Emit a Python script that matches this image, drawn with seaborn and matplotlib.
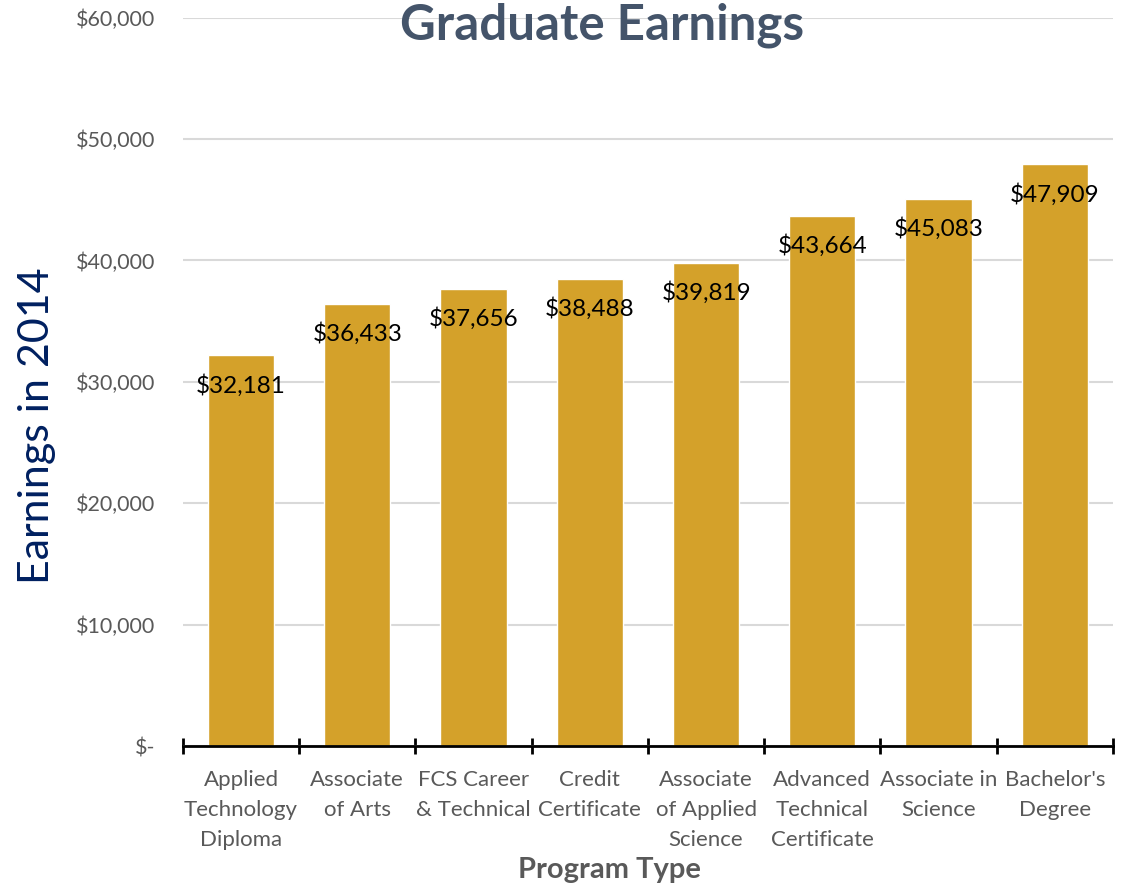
import numpy as np
import pandas as pd
import matplotlib
matplotlib.use("Agg")
import matplotlib.pyplot as plt
import seaborn as sns

categories = ["Applied\nTechnology\nDiploma", "Associate\nof Arts", "FCS Career\n& Technical",
              "Credit\nCertificate", "Associate\nof Applied\nScience", "Advanced\nTechnical\nCertificate",
              "Associate in\nScience", "Bachelor's\nDegree"]
earnings = [32181, 36433, 37656, 38488, 39819, 43664, 45083, 47909]
y_ticks = [0, 10000, 20000, 30000, 40000, 50000, 60000]
y_tick_labels = ["$-", "$10,000", "$20,000", "$30,000", "$40,000", "$50,000", "$60,000"]

sns.set_theme(style="white")
plt.rcParams['font.family'] = ['Lato', 'DejaVu Sans']

df = pd.DataFrame({"Program": categories, "Earnings": earnings})

fig = plt.figure(figsize=(11.22, 8.84), dpi=100)
ax = fig.add_axes([0.163, 0.156, 0.829, 0.824])

sns.barplot(data=df, x="Program", y="Earnings", color="#D4A12A", width=0.57,
            saturation=1, ax=ax, zorder=3)

ax.set_ylim(0, 60000)
ax.set_xlim(-0.5, len(categories) - 0.5)
ax.set_yticks(y_ticks)
ax.set_yticklabels(y_tick_labels)
ax.yaxis.grid(True, color="#D9D9D9", linewidth=1.5, zorder=0)
ax.set_axisbelow(True)
for s in ["top", "right", "left"]:
    ax.spines[s].set_visible(False)
ax.spines["bottom"].set_color("black")
ax.spines["bottom"].set_linewidth(2)
ax.spines["bottom"].set_zorder(5)

ax.tick_params(axis="y", length=0, labelsize=15.5, labelcolor="#595959", pad=20)
ax.set_xticks(range(len(categories)))
ax.set_xticklabels(categories, linespacing=1.62, va="top")
ax.tick_params(axis="x", which="major", length=0, labelsize=16, labelcolor="#595959", pad=17)
ax.set_xticks(np.arange(-0.5, len(categories), 1), minor=True)
ax.tick_params(axis="x", which="minor", bottom=True, length=11, width=2,
               direction="inout", color="black")

ax.set_xlabel("")
ax.set_ylabel("")
fig.text(0.543, 0.016, "Program Type", ha="center", va="center", fontsize=21,
         fontweight="bold", color="#595959")
fig.text(0.033, 0.518, "Earnings in 2014", ha="center", va="center", rotation=90,
         fontsize=31, color="#002060")

for i, v in enumerate(earnings):
    ax.annotate(f"${v:,.0f}", (i, v), xytext=(0, -21.5), textcoords="offset points",
                ha="center", va="center", fontsize=17.5, color="black", zorder=6)

fig.text(0.537, 0.972, "Graduate Earnings", ha="center", va="center", fontsize=35.5,
         fontweight="bold", color="#44546A")

fig.savefig("out.png", dpi=100)
